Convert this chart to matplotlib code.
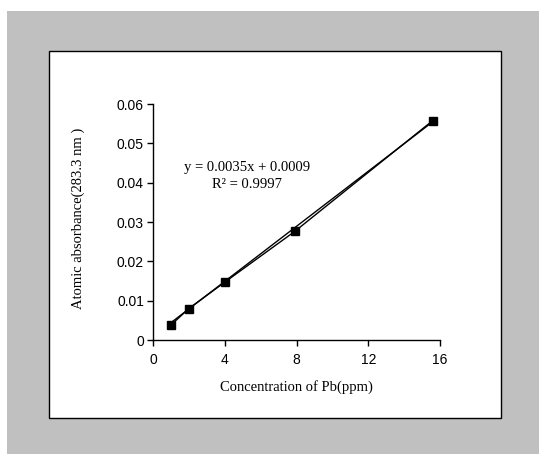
import matplotlib.pyplot as plt
from matplotlib.patches import Rectangle

# Pb calibration data
conc_ppm = [1.0, 2.0, 4.0, 7.9, 15.6]
absorbance = [0.0038, 0.0080, 0.0147, 0.0276, 0.0558]
slope = 0.0035
intercept = 0.0009
x_ticks = [0, 4, 8, 12, 16]
y_ticks = [0, 0.01, 0.02, 0.03, 0.04, 0.05, 0.06]
y_tick_labels = ["0", "0.01", "0.02", "0.03", "0.04", "0.05", "0.06"]

W, H = 539, 454
fig = plt.figure(figsize=(W / 100, H / 100), dpi=100)
fig.patch.set_facecolor("white")

# grey frame + white chart area (behind the axes)
fig.patches.append(Rectangle((7 / W, 0), 1 - 7 / W, 1 - 11 / H, transform=fig.transFigure,
                             facecolor="#c0c0c0", edgecolor="none", zorder=-3))
fig.patches.append(Rectangle((49 / W, 1 - 418 / H), (501 - 49) / W, (418 - 51) / H,
                             transform=fig.transFigure, facecolor="white",
                             edgecolor="black", linewidth=1, zorder=-2))

ax = fig.add_axes([153 / W, 1 - 340 / H, (440 - 153) / W, (340 - 104) / H])
ax.set_facecolor("none")

# trendline
xs = [conc_ppm[0], conc_ppm[-1]]
ax.plot(xs, [slope * x + intercept for x in xs], color="black", linewidth=1, zorder=2)
# data series
ax.plot(conc_ppm, absorbance, color="black", linewidth=1, marker="s", markersize=5.5, zorder=3)

ax.set_xlim(0, 16)
ax.set_ylim(0, 0.06)
ax.set_xticks(x_ticks)
ax.set_yticks(y_ticks)
ax.set_yticklabels(y_tick_labels)
for s in ["top", "right"]:
    ax.spines[s].set_visible(False)
for s in ["left", "bottom"]:
    ax.spines[s].set_linewidth(1)
ax.tick_params(direction="out", length=4, width=1, labelsize=10)
ax.tick_params(axis="x", pad=5)
ax.tick_params(axis="y", pad=2.5)
for lab in ax.get_xticklabels() + ax.get_yticklabels():
    lab.set_fontfamily("Liberation Sans")

serif = "Liberation Serif"
ax.set_xlabel("Concentration of Pb(ppm)", fontfamily=serif, fontsize=10.5)
ax.set_ylabel("Atomic absorbance(283.3 nm )", fontfamily=serif, fontsize=10.5)
ax.xaxis.set_label_coords(0.5, -(387 - 340) / 236)
ax.yaxis.set_label_coords(-(153 - 78) / 287, (340 - 218) / 236)
ax.xaxis.label.set_va("center")
ax.yaxis.label.set_va("center")

fig.text(247 / W, 1 - 167 / H, "y = 0.0035x + 0.0009", fontfamily=serif, fontsize=10.5,
         ha="center", va="center")
fig.text(247 / W, 1 - 185 / H, "R² = 0.9997", fontfamily=serif, fontsize=10.5,
         ha="center", va="center")

fig.savefig("out.png", dpi=100)
